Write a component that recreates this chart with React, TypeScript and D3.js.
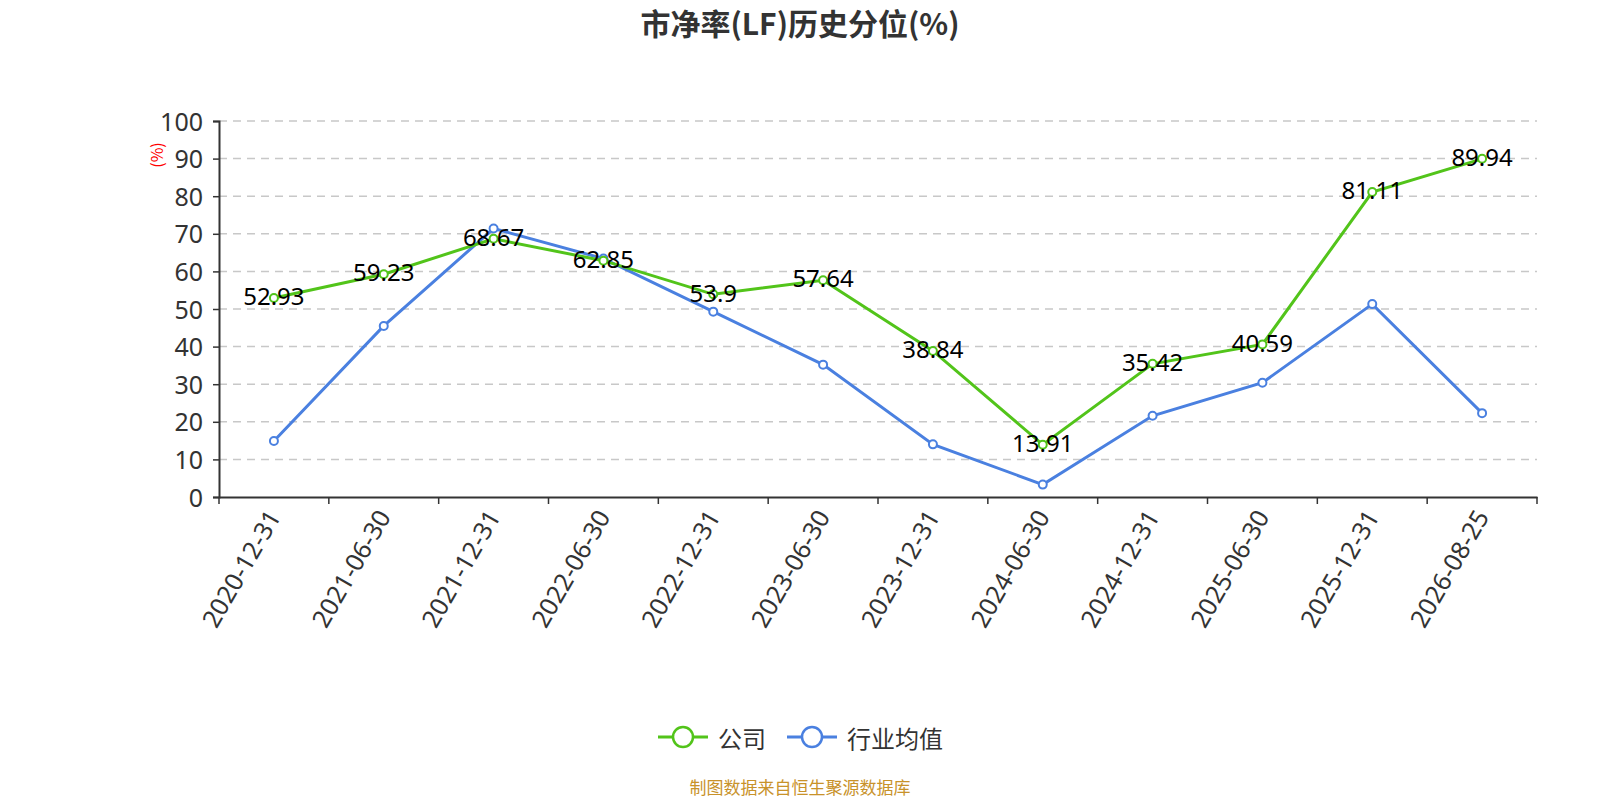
import { useEffect, useRef } from "react";
import * as d3 from "d3";

const categories = [
  "2020-12-31",
  "2021-06-30",
  "2021-12-31",
  "2022-06-30",
  "2022-12-31",
  "2023-06-30",
  "2023-12-31",
  "2024-06-30",
  "2024-12-31",
  "2025-06-30",
  "2025-12-31",
  "2026-08-25",
];
const companyValues = [52.93, 59.23, 68.67, 62.85, 53.9, 57.64, 38.84, 13.91, 35.42, 40.59, 81.11, 89.94];
const industryValues = [14.9, 45.5, 71.4, 63.4, 49.3, 35.2, 14.0, 3.3, 21.6, 30.4, 51.3, 22.3];
const yTicks = [0, 10, 20, 30, 40, 50, 60, 70, 80, 90, 100];

const seriesList = [
  { name: "公司", color: "#52c41a", values: companyValues, labels: true },
  { name: "行业均值", color: "#4a80e0", values: industryValues, labels: false },
];

const W = 1600;
const H = 800;
const FONT = "'Noto Sans CJK SC', 'Noto Sans', sans-serif";
const NUM_FONT = "'Noto Sans', 'Open Sans', sans-serif";

export default function App() {
  const svgRef = useRef<SVGSVGElement>(null);

  useEffect(() => {
    if (!svgRef.current) return;
    const svg = d3.select(svgRef.current);
    svg.selectAll("*").remove();

    const margin = { top: 121, right: 63, bottom: 303, left: 219 };
    const x = d3
      .scaleBand<string>()
      .domain(categories)
      .range([margin.left, W - margin.right]);
    const y = d3
      .scaleLinear()
      .domain([0, 100])
      .range([H - margin.bottom, margin.top]);

    // title
    svg
      .append("text")
      .attr("x", 800)
      .attr("y", 22)
      .attr("text-anchor", "middle")
      .attr("dominant-baseline", "central")
      .attr("fill", "#333")
      .style("font-family", FONT)
      .style("font-size", "30px")
      .style("font-weight", 700)
      .text("市净率(LF)历史分位(%)");

    // grid
    svg
      .append("g")
      .selectAll("line")
      .data(yTicks.filter((t) => t > 0))
      .join("line")
      .attr("x1", margin.left)
      .attr("x2", W - margin.right)
      .attr("y1", (d) => y(d))
      .attr("y2", (d) => y(d))
      .attr("stroke", "#c8c8c8")
      .attr("stroke-width", 1.5)
      .attr("stroke-dasharray", "8,6");

    // y axis
    const yAxis = svg
      .append("g")
      .attr("transform", `translate(${margin.left},0)`)
      .call(d3.axisLeft(y).tickValues(yTicks).tickSize(6).tickPadding(10));
    yAxis.select(".domain").attr("stroke", "#333").attr("stroke-width", 2);
    yAxis.selectAll(".tick line").attr("stroke", "#333").attr("stroke-width", 1.5);
    yAxis
      .selectAll("text")
      .attr("fill", "#333")
      .attr("dy", "0.36em")
      .style("font-family", NUM_FONT)
      .style("font-size", "25px");

    svg
      .append("text")
      .attr("transform", `translate(156,155) rotate(-90)`)
      .attr("text-anchor", "middle")
      .attr("dominant-baseline", "central")
      .attr("fill", "red")
      .style("font-family", FONT)
      .style("font-size", "16px")
      .text("(%)");

    // x axis
    const xAxis = svg
      .append("g")
      .attr("transform", `translate(0,${H - margin.bottom})`)
      .call(d3.axisBottom(x).tickSize(0).tickPadding(0));
    xAxis.select(".domain").attr("stroke", "#333").attr("stroke-width", 2);
    xAxis.selectAll(".tick line").remove();
    xAxis
      .selectAll<SVGTextElement, string>("text")
      .attr("fill", "#333")
      .attr("text-anchor", "end")
      .attr("y", null)
      .attr("dy", "0.36em")
      .attr("transform", "translate(0,15) rotate(-60)")
      .style("font-family", NUM_FONT)
      .style("font-size", "25px");

    const boundaries = categories.map((c) => x(c) as number).concat([W - margin.right]);
    xAxis
      .append("g")
      .selectAll("line")
      .data(boundaries)
      .join("line")
      .attr("x1", (d) => d)
      .attr("x2", (d) => d)
      .attr("y1", 0)
      .attr("y2", 7)
      .attr("stroke", "#333")
      .attr("stroke-width", 1.5);

    const cx = (c: string) => (x(c) as number) + x.bandwidth() / 2;

    // series (industry drawn first so company sits on top of it)
    [...seriesList].reverse().forEach((s) => {
      const line = d3
        .line<number>()
        .x((_, i) => cx(categories[i]))
        .y((v) => y(v));
      svg
        .append("path")
        .datum(s.values)
        .attr("d", line)
        .attr("fill", "none")
        .attr("stroke", s.color)
        .attr("stroke-width", 3);
      svg
        .append("g")
        .selectAll("circle")
        .data(s.values)
        .join("circle")
        .attr("cx", (_, i) => cx(categories[i]))
        .attr("cy", (v) => y(v))
        .attr("r", 4)
        .attr("fill", "#fff")
        .attr("stroke", s.color)
        .attr("stroke-width", 2);
    });

    seriesList
      .filter((s) => s.labels)
      .forEach((s) => {
        svg
          .append("g")
          .selectAll("text")
          .data(s.values)
          .join("text")
          .attr("x", (_, i) => cx(categories[i]))
          .attr("y", (v) => y(v))
          .attr("dy", "0.3em")
          .attr("text-anchor", "middle")
          .attr("fill", "#000")
          .style("font-family", NUM_FONT)
          .style("font-size", "24px")
          .text((v) => String(v));
      });

    // legend
    const legendItems = [
      { ...seriesList[0], x0: 658 },
      { ...seriesList[1], x0: 787 },
    ];
    const ly = 737;
    legendItems.forEach((item) => {
      const g = svg.append("g");
      g.append("line")
        .attr("x1", item.x0)
        .attr("x2", item.x0 + 50)
        .attr("y1", ly)
        .attr("y2", ly)
        .attr("stroke", item.color)
        .attr("stroke-width", 3);
      g.append("circle")
        .attr("cx", item.x0 + 25)
        .attr("cy", ly)
        .attr("r", 10)
        .attr("fill", "#fff")
        .attr("stroke", item.color)
        .attr("stroke-width", 2.5);
      g.append("text")
        .attr("x", item.x0 + 60)
        .attr("y", ly)
        .attr("dominant-baseline", "central")
        .attr("fill", "#333")
        .style("font-family", FONT)
        .style("font-size", "24px")
        .text(item.name);
    });

    svg
      .append("text")
      .attr("x", 800)
      .attr("y", 786)
      .attr("text-anchor", "middle")
      .attr("dominant-baseline", "central")
      .attr("fill", "#c8922a")
      .style("font-family", FONT)
      .style("font-size", "17px")
      .text("制图数据来自恒生聚源数据库");
  }, []);

  return (
    <div style={{ position: "absolute", left: 0, top: 0 }}>
      <svg ref={svgRef} width={W} height={H} style={{ display: "block", background: "#fff" }} />
    </div>
  );
}
